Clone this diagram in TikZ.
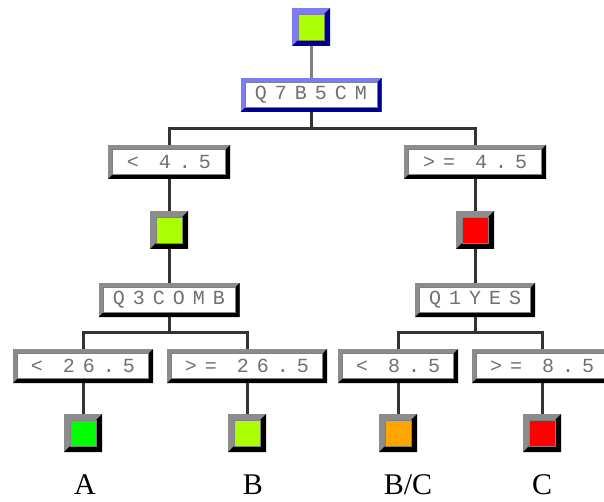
\documentclass[tikz,border=0pt]{standalone}
\usepackage{fontspec}
\setmainfont{Liberation Serif}
\newfontfamily\splitfont[LetterSpace=40]{Liberation Mono}

\definecolor{chartreuse}{HTML}{AAFF00}
\definecolor{leafgreen}{HTML}{00FF00}
\definecolor{amber}{HTML}{FFA500}
\definecolor{leafred}{HTML}{FF0000}
\definecolor{bevellight}{HTML}{8C8C8C}
\definecolor{bluelight}{HTML}{7C7CF4}
\definecolor{bluedark}{HTML}{000090}
\definecolor{splittext}{HTML}{707070}

\def\bw{5pt} % ширина фаски по умолчанию

\tikzset{
  bevel/.code={\def\bw{#1}},
  % объёмная рамка: светлый край, тёмный край, заливка середины
  raised/.style n args={3}{
    fill=#1, inner sep=0pt, outer sep=0pt,
    path picture={
      \fill[#2] (path picture bounding box.north east)
        -- (path picture bounding box.south east)
        -- (path picture bounding box.south west)
        -- ([shift={(\bw,\bw)}]path picture bounding box.south west)
        -- ([shift={(-\bw,\bw)}]path picture bounding box.south east)
        -- ([shift={(-\bw,-\bw)}]path picture bounding box.north east)
        -- cycle;
      \filldraw[fill=#3, draw=black!50, line width=0.7pt]
        ([shift={(\bw,\bw)}]path picture bounding box.south west)
        rectangle ([shift={(-\bw,-\bw)}]path picture bounding box.north east);
    }},
  split/.style={raised={bevellight}{black}{white}, bevel=4.5pt,
    minimum height=34pt, text=splittext,
    font=\splitfont\fontsize{20}{22}\selectfont},
  blue split/.style={split, raised={bluelight}{bluedark}{white}},
  leaf/.style={raised={bevellight}{black}{#1}, bevel=6pt, minimum size=38pt},
  top leaf/.style={raised={bluelight}{bluedark}{#1}, bevel=6pt, minimum size=38pt},
  link/.style={draw=black!80, line width=3pt},
  stem/.style={draw=black!50, line width=3pt},
  class/.style={font=\fontsize{30}{36}\selectfont}
}

\begin{document}
\begin{tikzpicture}[x=1pt, y=-1pt]
    % --- НАСТРОЙКИ ---
    \def\Lx{169}  % левая ветвь
    \def\Rx{475}  % правая ветвь
    \useasboundingbox (0,0) rectangle (604,502);

    % --- КОРЕНЬ ---
    \node[top leaf=chartreuse] (root) at (311,27) {};
    \node[blue split, minimum width=141pt] (q7b5cm) at (311,95) {Q7B5CM};

    % --- ПЕРВОЕ РАЗБИЕНИЕ ---
    \node[split, minimum width=122pt] (lt45) at (\Lx,162) {< 4.5};
    \node[split, minimum width=142pt] (ge45) at (\Rx,162) {>= 4.5};
    \node[leaf=chartreuse] (midL) at (\Lx,230) {};
    \node[leaf=leafred] (midR) at (\Rx,230) {};

    % --- ВТОРОЕ РАЗБИЕНИЕ ---
    \node[split, minimum width=141pt] (q3comb) at (\Lx,300) {Q3COMB};
    \node[split, minimum width=120pt] (q1yes) at (\Rx,300) {Q1YES};

    \node[split, minimum width=140pt] (lt265) at (83,366) {< 26.5};
    \node[split, minimum width=160pt] (ge265) at (247,366) {>= 26.5};
    \node[split, minimum width=120pt] (lt85) at (398,366) {< 8.5};
    \node[split, minimum width=140pt] (ge85) at (542,366) {>= 8.5};

    % --- ЛИСТЬЯ ---
    \node[leaf=leafgreen] (leafA) at (83,433) {};
    \node[leaf=chartreuse] (leafB) at (247,433) {};
    \node[leaf=amber] (leafBC) at (398,433) {};
    \node[leaf=leafred] (leafC) at (542,433) {};

    \node[class] (labA) at (85,485) {A};
    \node[class] (labB) at (253,485) {B};
    \node[class] (labBC) at (408,485) {B/C};
    \node[class] (labC) at (542,485) {C};

    % --- СВЯЗИ ---
    \coordinate (fork0) at (311,129);
    \coordinate (forkL) at (\Lx,332);
    \coordinate (forkR) at (\Rx,332);

    \draw[stem] (root) -- (q7b5cm);
    \draw[link] (q7b5cm) -- (fork0);
    \draw[link] (lt45) |- (fork0) -| (ge45);
    \draw[link] (lt45) -- (midL);
    \draw[link] (ge45) -- (midR);
    \draw[link] (midL) -- (q3comb);
    \draw[link] (midR) -- (q1yes);

    \draw[link] (q3comb) -- (forkL);
    \draw[link] (lt265) |- (forkL) -| (ge265);
    \draw[link] (q1yes) -- (forkR);
    \draw[link] (lt85) |- (forkR) -| (ge85);

    \draw[link] (lt265) -- (leafA);
    \draw[link] (ge265) -- (leafB);
    \draw[link] (lt85) -- (leafBC);
    \draw[link] (ge85) -- (leafC);

\end{tikzpicture}
\end{document}
